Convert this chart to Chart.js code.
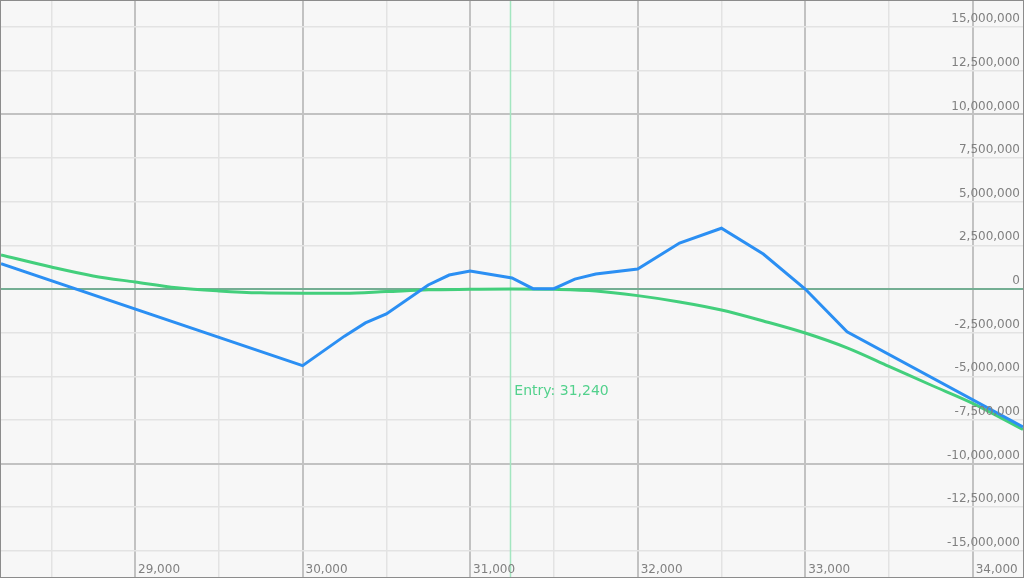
<!DOCTYPE html>
<html lang="en">
<head>
    <meta charset="UTF-8">
    <meta name="viewport" content="width=device-width, initial-scale=1.0">
    <title>Payoff</title>
    <script src="https://cdn.jsdelivr.net/npm/chart.js"></script>
    <style>
        body { margin: 0; background: #ffffff; }
        #wrap {
            width: 1022px;
            height: 576px;
            border: 1px solid #8c8c8c;
            background: #f7f7f7;
            position: relative;
        }
    </style>
</head>
<body>
    <div id="wrap"><canvas id="payoffChart"></canvas></div>
    <script>
        // dane
        const entryPrice = 31240;

        const expiryPrices = [28200, 30000, 30250, 30375, 30500, 30750, 30875, 31000, 31250, 31375,
            31500, 31625, 31750, 32000, 32250, 32500, 32750, 33000, 33250, 34300];
        const expiryPnl = [1450000, -4390000, -2700000, -1940000, -1430000, 230000, 800000, 1030000, 630000, 20000,
            20000, 570000, 860000, 1140000, 2630000, 3480000, 2000000, 0, -2450000, -7900000];

        const todayPrices = [28200, 28500, 28750, 29000, 29250, 29500, 29750, 30000, 30250, 30500,
            30750, 31000, 31250, 31500, 31750, 32000, 32250, 32500, 32750, 33000,
            33250, 33500, 33750, 34000, 34300];
        const todayPnl = [1950000, 1260000, 750000, 400000, 70000, -110000, -220000, -240000, -240000, -150000,
            -50000, -20000, 0, -20000, -110000, -380000, -740000, -1200000, -1830000, -2520000,
            -3370000, -4430000, -5500000, -6550000, -8050000];

        const xTicks = [29000, 30000, 31000, 32000, 33000, 34000];
        const xMinorTicks = [28500, 29500, 30500, 31500, 32500, 33500];
        const yTicks = [15000000, 12500000, 10000000, 7500000, 5000000, 2500000, 0,
            -2500000, -5000000, -7500000, -10000000, -12500000, -15000000];

        const fmt = v => v.toLocaleString('en-US');

        const labelsPlugin = {
            id: 'labelsPlugin',
            beforeDatasetsDraw(chart) {
                const { ctx, chartArea: a, scales: { x } } = chart;
                const xe = Math.round(x.getPixelForValue(entryPrice)) + 0.5;
                ctx.save();
                ctx.strokeStyle = '#a3e6c0';
                ctx.lineWidth = 1.5;
                ctx.beginPath();
                ctx.moveTo(xe, a.top);
                ctx.lineTo(xe, a.bottom);
                ctx.stroke();
                ctx.restore();
            },
            afterDraw(chart) {
                const { ctx, chartArea: a, scales: { x, y } } = chart;
                ctx.save();
                ctx.font = '12px "DejaVu Sans"';
                ctx.fillStyle = '#808080';
                // etykiety osi Y (po prawej, nad linia)
                ctx.textAlign = 'right';
                ctx.textBaseline = 'bottom';
                yTicks.forEach(v => {
                    ctx.fillText(fmt(v), a.right - 3, y.getPixelForValue(v) - 2);
                });
                // etykiety osi X (na dole, na prawo od linii)
                ctx.textAlign = 'left';
                ctx.textBaseline = 'bottom';
                xTicks.forEach(v => {
                    ctx.fillText(fmt(v), x.getPixelForValue(v) + 3, a.bottom - 1);
                });
                // etykieta wejscia
                ctx.font = '14px "DejaVu Sans"';
                ctx.fillStyle = '#52d18c';
                ctx.textBaseline = 'middle';
                ctx.fillText('Entry: ' + fmt(entryPrice), x.getPixelForValue(entryPrice) + 4, a.top + 102 + (a.bottom - a.top) / 2);
                ctx.restore();
            }
        };

        function renderChart() {
            const ctx = document.getElementById('payoffChart').getContext('2d');
            new Chart(ctx, {
                type: 'line',
                data: {
                    datasets: [
                        {
                            data: expiryPrices.map((p, i) => ({ x: p, y: expiryPnl[i] })),
                            borderColor: '#2b8ff3',
                            borderWidth: 3,
                            pointRadius: 0,
                            tension: 0,
                            order: 1
                        },
                        {
                            data: todayPrices.map((p, i) => ({ x: p, y: todayPnl[i] })),
                            borderColor: '#43cf7c',
                            borderWidth: 3,
                            pointRadius: 0,
                            cubicInterpolationMode: 'monotone',
                            order: 2
                        }
                    ]
                },
                options: {
                    responsive: true,
                    maintainAspectRatio: false,
                    animation: false,
                    layout: { padding: 0 },
                    plugins: {
                        legend: { display: false },
                        tooltip: { enabled: false }
                    },
                    scales: {
                        x: {
                            type: 'linear',
                            min: 28200,
                            max: 34300,
                            border: { display: false },
                            ticks: { display: false },
                            afterBuildTicks: scale => {
                                scale.ticks = xTicks.concat(xMinorTicks).sort((a, b) => a - b).map(v => ({ value: v }));
                            },
                            grid: {
                                drawTicks: false,
                                color: c => c.tick.value % 1000 === 0 ? '#c2c2c2' : '#e3e3e3',
                                lineWidth: c => c.tick.value % 1000 === 0 ? 2 : 1.5
                            }
                        },
                        y: {
                            type: 'linear',
                            position: 'right',
                            min: -16500000,
                            max: 16500000,
                            border: { display: false },
                            ticks: { display: false },
                            afterBuildTicks: scale => {
                                scale.ticks = yTicks.map(v => ({ value: v }));
                            },
                            grid: {
                                drawTicks: false,
                                color: c => c.tick.value === 0 ? '#74ae93' : (c.tick.value % 10000000 === 0 ? '#c2c2c2' : '#e3e3e3'),
                                lineWidth: c => c.tick.value % 10000000 === 0 ? 2 : 1.5
                            }
                        }
                    }
                },
                plugins: [labelsPlugin]
            });
        }

        window.onload = renderChart;
    </script>
</body>
</html>
